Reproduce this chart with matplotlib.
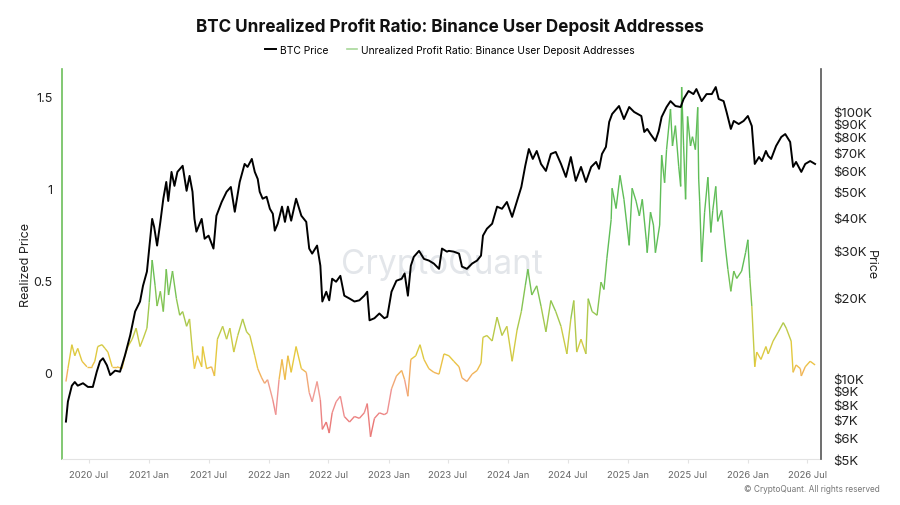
import pandas as pd
import matplotlib
matplotlib.use("Agg")
import matplotlib.pyplot as plt
import matplotlib.dates as mdates
from matplotlib.collections import LineCollection
from matplotlib.colors import LinearSegmentedColormap, Normalize

plt.rcParams['font.family'] = ['Inter', 'DejaVu Sans']

# BTC price (right axis, log)
btc_dates = [
    '2020-04-22', '2020-04-28', '2020-05-10', '2020-05-19', '2020-05-28', '2020-06-13', '2020-06-28',
    '2020-07-13', '2020-07-25', '2020-08-04', '2020-08-13', '2020-08-25', '2020-09-04', '2020-09-19',
    '2020-10-04', '2020-10-19', '2020-11-04', '2020-11-19', '2020-12-04', '2020-12-13', '2020-12-25',
    '2021-01-01', '2021-01-10', '2021-01-16', '2021-01-25', '2021-02-04', '2021-02-13', '2021-02-22',
    '2021-02-28', '2021-03-10', '2021-03-19', '2021-03-28', '2021-04-13', '2021-04-25', '2021-05-04',
    '2021-05-13', '2021-05-19', '2021-05-25', '2021-06-10', '2021-06-19', '2021-07-01', '2021-07-16',
    '2021-07-25', '2021-08-10', '2021-08-25', '2021-09-07', '2021-09-19', '2021-10-04', '2021-10-19',
    '2021-10-28', '2021-11-10', '2021-11-19', '2021-11-28', '2021-12-04', '2021-12-13', '2021-12-25',
    '2022-01-04', '2022-01-13', '2022-01-19', '2022-01-28', '2022-02-10', '2022-02-19', '2022-02-28',
    '2022-03-10', '2022-03-25', '2022-04-10', '2022-04-25', '2022-05-04', '2022-05-13', '2022-05-28',
    '2022-06-07', '2022-06-13', '2022-06-25', '2022-07-04', '2022-07-13', '2022-07-25', '2022-08-07',
    '2022-08-19', '2022-09-04', '2022-09-19', '2022-10-04', '2022-10-19', '2022-10-28', '2022-11-04',
    '2022-11-19', '2022-12-04', '2022-12-19', '2022-12-28', '2023-01-10', '2023-01-25', '2023-02-10',
    '2023-02-19', '2023-03-01', '2023-03-10', '2023-03-19', '2023-04-04', '2023-04-19', '2023-05-04',
    '2023-05-19', '2023-06-04', '2023-06-13', '2023-06-28', '2023-07-04', '2023-07-19', '2023-08-04',
    '2023-08-13', '2023-08-28', '2023-09-13', '2023-09-28', '2023-10-10', '2023-10-16', '2023-10-28',
    '2023-11-13', '2023-11-28', '2023-12-13', '2023-12-28', '2024-01-13', '2024-01-28', '2024-02-10',
    '2024-02-22', '2024-03-04', '2024-03-16', '2024-03-28', '2024-04-10', '2024-04-25', '2024-05-10',
    '2024-05-25', '2024-06-10', '2024-06-25', '2024-07-10', '2024-07-25', '2024-08-10', '2024-08-25',
    '2024-09-10', '2024-09-25', '2024-10-04', '2024-10-13', '2024-10-25', '2024-11-04', '2024-11-13',
    '2024-12-04', '2024-12-19', '2025-01-04', '2025-01-19', '2025-02-10', '2025-02-19', '2025-02-28',
    '2025-03-10', '2025-03-25', '2025-04-04', '2025-04-13', '2025-04-28', '2025-05-10', '2025-05-25',
    '2025-06-10', '2025-06-19', '2025-07-04', '2025-07-19', '2025-07-28', '2025-08-13', '2025-08-28',
    '2025-09-13', '2025-09-25', '2025-10-04', '2025-10-19', '2025-10-28', '2025-11-10', '2025-11-19',
    '2025-12-04', '2025-12-19', '2026-01-01', '2026-01-13', '2026-01-22', '2026-02-04', '2026-02-13',
    '2026-02-25', '2026-03-04', '2026-03-13', '2026-03-28', '2026-04-13', '2026-04-25', '2026-05-10',
    '2026-05-19', '2026-05-28', '2026-06-13', '2026-06-25', '2026-07-10', '2026-07-25',
]
btc_price = [
    6900, 8200, 9400, 9700, 9400, 9600, 9300,
    9300, 10600, 11600, 11900, 11200, 10300, 10700,
    10600, 12200, 14500, 17800, 19400, 22200, 25100,
    30600, 39500, 36900, 31400, 38500, 47000, 54300,
    46100, 59200, 52500, 59200, 62400, 50300, 57200,
    49900, 39500, 35400, 39500, 33300, 34200, 30600,
    40600, 45700, 49900, 52000, 42000, 54300, 63400,
    61800, 66200, 59200, 55700, 49900, 47000, 47800,
    43100, 41300, 35700, 37900, 43900, 38500, 43900,
    38900, 47000, 40600, 38500, 30600, 29300, 31400,
    26400, 19400, 21100, 19600, 23600, 23000, 24200,
    20400, 19900, 19400, 19600, 20400, 21100, 16500,
    16800, 17500, 16800, 17000, 21100, 23200, 23600,
    24700, 20400, 26400, 28500, 30000, 28000, 27600,
    26900, 25700, 30600, 29800, 30000, 29800, 29300,
    26200, 25700, 26900, 27600, 28800, 34200, 36300,
    37900, 43900, 43100, 45700, 40200, 46100, 52000,
    62400, 72100, 66200, 70900, 63400, 59700, 69100,
    70300, 63400, 56700, 67300, 54800, 61800, 54300,
    61800, 64500, 60800, 69100, 73400, 91000, 97500,
    104400, 93300, 103500, 99200, 95800, 83500, 85700,
    82000, 77300, 84100, 95000, 103500, 108900, 104400,
    103500, 110900, 118800, 115700, 120800, 108900, 115700,
    115700, 122900, 110900, 108900, 99200, 85700, 91800,
    89400, 91800, 95800, 87900, 63400, 67300, 65000,
    70900, 67900, 66200, 74000, 80000, 82000, 76600,
    61800, 64500, 59200, 63400, 65000, 63400,
]

# Unrealized profit ratio (left axis)
ratio_dates = [
    '2020-04-22', '2020-04-28', '2020-05-10', '2020-05-19', '2020-05-28', '2020-06-10', '2020-06-25',
    '2020-07-10', '2020-07-19', '2020-07-28', '2020-08-10', '2020-08-19', '2020-08-28', '2020-09-10',
    '2020-09-25', '2020-10-10', '2020-10-19', '2020-10-28', '2020-11-10', '2020-11-22', '2020-12-04',
    '2020-12-13', '2020-12-25', '2021-01-01', '2021-01-10', '2021-01-19', '2021-01-25', '2021-02-04',
    '2021-02-13', '2021-02-22', '2021-03-01', '2021-03-13', '2021-03-25', '2021-04-04', '2021-04-13',
    '2021-04-25', '2021-05-04', '2021-05-13', '2021-05-19', '2021-05-28', '2021-06-10', '2021-06-13',
    '2021-06-25', '2021-07-10', '2021-07-19', '2021-07-28', '2021-08-13', '2021-08-25', '2021-09-04',
    '2021-09-16', '2021-09-28', '2021-10-13', '2021-10-25', '2021-11-04', '2021-11-19', '2021-11-28',
    '2021-12-10', '2021-12-19', '2021-12-28', '2022-01-13', '2022-01-22', '2022-02-01', '2022-02-10',
    '2022-02-19', '2022-02-28', '2022-03-10', '2022-03-25', '2022-04-10', '2022-04-25', '2022-05-04',
    '2022-05-13', '2022-05-28', '2022-06-07', '2022-06-13', '2022-06-25', '2022-07-04', '2022-07-13',
    '2022-07-25', '2022-08-07', '2022-08-19', '2022-09-04', '2022-09-19', '2022-10-04', '2022-10-19',
    '2022-10-28', '2022-11-07', '2022-11-19', '2022-12-04', '2022-12-19', '2022-12-28', '2023-01-10',
    '2023-01-25', '2023-02-10', '2023-02-19', '2023-03-01', '2023-03-10', '2023-03-25', '2023-04-07',
    '2023-04-19', '2023-05-04', '2023-05-19', '2023-06-04', '2023-06-19', '2023-07-04', '2023-07-19',
    '2023-08-04', '2023-08-13', '2023-08-28', '2023-09-13', '2023-09-28', '2023-10-10', '2023-10-16',
    '2023-10-28', '2023-11-13', '2023-11-28', '2023-12-13', '2023-12-28', '2024-01-13', '2024-01-28',
    '2024-02-10', '2024-02-22', '2024-03-01', '2024-03-13', '2024-03-28', '2024-04-10', '2024-04-25',
    '2024-05-10', '2024-05-25', '2024-06-10', '2024-06-28', '2024-07-10', '2024-07-19', '2024-07-28',
    '2024-08-10', '2024-08-25', '2024-09-01', '2024-09-13', '2024-09-28', '2024-10-10', '2024-10-19',
    '2024-10-28', '2024-11-10', '2024-11-13', '2024-11-25', '2024-12-07', '2024-12-19', '2025-01-04',
    '2025-01-13', '2025-01-25', '2025-02-04', '2025-02-13', '2025-02-25', '2025-02-28', '2025-03-10',
    '2025-03-19', '2025-03-25', '2025-04-07', '2025-04-13', '2025-04-22', '2025-04-28', '2025-05-10',
    '2025-05-16', '2025-05-25', '2025-06-04', '2025-06-10', '2025-06-13', '2025-06-19', '2025-06-25',
    '2025-07-01', '2025-07-10', '2025-07-16', '2025-07-25', '2025-08-01', '2025-08-04', '2025-08-07',
    '2025-08-13', '2025-08-22', '2025-09-01', '2025-09-10', '2025-09-16', '2025-09-25', '2025-10-01',
    '2025-10-13', '2025-10-25', '2025-11-01', '2025-11-10', '2025-11-19', '2025-11-28', '2025-12-13',
    '2025-12-25', '2026-01-01', '2026-01-07', '2026-01-13', '2026-01-22', '2026-01-28', '2026-02-10',
    '2026-02-25', '2026-03-04', '2026-03-19', '2026-04-04', '2026-04-19', '2026-04-28', '2026-05-13',
    '2026-05-19', '2026-05-28', '2026-06-10', '2026-06-13', '2026-06-25', '2026-07-10', '2026-07-25',
]
ratio_values = [
    -0.05, 0.02, 0.15, 0.09, 0.13, 0.06, 0.03,
    0.03, 0.06, 0.14, 0.15, 0.13, 0.11, 0.03,
    0.03, 0.02, 0.09, 0.14, 0.18, 0.24, 0.14,
    0.18, 0.24, 0.38, 0.61, 0.47, 0.36, 0.44,
    0.33, 0.56, 0.42, 0.55, 0.40, 0.31, 0.33,
    0.25, 0.29, 0.11, 0.02, 0.09, 0.03, 0.14,
    0.02, 0.03, -0.02, 0.18, 0.25, 0.18, 0.24,
    0.11, 0.20, 0.29, 0.22, 0.20, 0.09, 0.02,
    -0.03, -0.06, -0.04, -0.15, -0.23, -0.04, 0.07,
    -0.04, 0.09, 0.00, 0.14, 0.02, 0.00, -0.11,
    -0.16, -0.05, -0.15, -0.31, -0.27, -0.33, -0.22,
    -0.16, -0.13, -0.24, -0.27, -0.24, -0.25, -0.22,
    -0.17, -0.35, -0.25, -0.22, -0.23, -0.22, -0.09,
    -0.02, 0.01, -0.04, -0.13, 0.07, 0.09, 0.15,
    0.07, 0.02, 0.00, -0.01, 0.10, 0.09, 0.06,
    0.03, -0.03, -0.05, -0.01, 0.01, 0.05, 0.19,
    0.20, 0.17, 0.30, 0.20, 0.25, 0.06, 0.23,
    0.33, 0.47, 0.56, 0.42, 0.47, 0.36, 0.22,
    0.39, 0.33, 0.25, 0.10, 0.29, 0.39, 0.11,
    0.18, 0.10, 0.40, 0.33, 0.31, 0.49, 0.45,
    0.62, 0.83, 1.00, 0.89, 1.07, 0.94, 0.69,
    1.00, 0.93, 0.85, 0.94, 0.72, 0.65, 0.87,
    0.80, 0.65, 0.80, 1.18, 1.03, 1.21, 1.43,
    1.23, 1.34, 1.12, 1.01, 1.55, 1.23, 0.94,
    1.39, 1.23, 1.28, 1.21, 1.44, 1.05, 0.93,
    0.60, 0.87, 1.06, 0.76, 0.88, 1.01, 0.82,
    0.88, 0.67, 0.56, 0.44, 0.55, 0.51, 0.55,
    0.65, 0.72, 0.51, 0.36, 0.03, 0.11, 0.07,
    0.14, 0.10, 0.17, 0.22, 0.27, 0.24, 0.17,
    0.00, 0.04, 0.02, -0.02, 0.03, 0.06, 0.04,
]

ratio_ticks = [0, 0.5, 1, 1.5]
ratio_labels = ['0', '0.5', '1', '1.5']
price_ticks = [5000, 6000, 7000, 8000, 9000, 10000, 20000, 30000, 40000,
               50000, 60000, 70000, 80000, 90000, 100000]
price_labels = ['$5K', '$6K', '$7K', '$8K', '$9K', '$10K', '$20K', '$30K', '$40K',
                '$50K', '$60K', '$70K', '$80K', '$90K', '$100K']
x_tick_dates = ['2020-07-01', '2021-01-01', '2021-07-01', '2022-01-01', '2022-07-01',
                '2023-01-01', '2023-07-01', '2024-01-01', '2024-07-01', '2025-01-01',
                '2025-07-01', '2026-01-01', '2026-07-01']
x_tick_labels = ['2020 Jul', '2021 Jan', '2021 Jul', '2022 Jan', '2022 Jul', '2023 Jan',
                 '2023 Jul', '2024 Jan', '2024 Jul', '2025 Jan', '2025 Jul', '2026 Jan',
                 '2026 Jul']

green = '#6cbf5a'
tick_col = '#666666'

fig = plt.figure(figsize=(9, 5.06), dpi=100)
ax = fig.add_axes([0.0689, 0.0909, 0.8433, 0.7708])
ax2 = ax.twinx()

# profit ratio, coloured by its value
rx = mdates.date2num(pd.to_datetime(ratio_dates))
ry = ratio_values
segs = [[(rx[i], ry[i]), (rx[i + 1], ry[i + 1])] for i in range(len(rx) - 1)]
mids = [(ry[i] + ry[i + 1]) / 2 for i in range(len(ry) - 1)]
cmap = LinearSegmentedColormap.from_list('upr', [
    (0.00, '#e86e6c'),
    (0.25, '#f09a9a'),
    (0.36, '#f2b35a'),
    (0.44, '#e8c93e'),
    (0.58, '#c4cb48'),
    (0.75, '#8dc652'),
    (1.00, '#5fbd57'),
])
norm = Normalize(vmin=-0.35, vmax=0.6)
lc = LineCollection(segs, colors=cmap(norm(mids)), linewidths=1.0)
ax.add_collection(lc)

# btc price
bx = pd.to_datetime(btc_dates)
ax2.plot(bx, btc_price, color='black', lw=1.4)
ax2.set_yscale('log')

ax.set_xlim(pd.Timestamp('2020-04-10'), pd.Timestamp('2026-08-12'))
ax.set_ylim(-0.471, 1.648)
ax2.set_ylim(5000, 143600)

ax.set_yticks(ratio_ticks)
ax.set_yticklabels(ratio_labels)
ax2.set_yticks(price_ticks)
ax2.set_yticklabels(price_labels)
ax2.yaxis.set_minor_locator(matplotlib.ticker.NullLocator())
ax.set_xticks(pd.to_datetime(x_tick_dates))
ax.set_xticklabels(x_tick_labels)

ax.tick_params(axis='y', length=0, pad=7, labelsize=9, labelcolor='#222222')
ax2.tick_params(axis='y', length=0, pad=9, labelsize=9.5, labelcolor='#222222')
ax.tick_params(axis='x', length=3, width=0.8, color='#e3e3e3', pad=5,
               labelsize=6.8, labelcolor=tick_col)

for s in ['top', 'right']:
    ax.spines[s].set_visible(False)
ax.spines['left'].set_color(green)
ax.spines['left'].set_linewidth(1.2)
ax.spines['bottom'].set_color('#e3e3e3')
for s in ['top', 'left', 'bottom']:
    ax2.spines[s].set_visible(False)
ax2.spines['right'].set_color('#555555')
ax2.spines['right'].set_linewidth(1.2)

ax.set_ylabel('Realized Price', fontsize=9, color='#222222', labelpad=1)
ax2.set_ylabel('Price', fontsize=9, color='#222222', rotation=270, labelpad=3)

# watermark
ax.text(0.5, 0.5, 'CryptoQuant', transform=ax.transAxes, ha='center', va='center',
        fontsize=24, color='#e3e6ea', zorder=0)

fig.text(0.5, 0.947, 'BTC Unrealized Profit Ratio: Binance User Deposit Addresses',
         ha='center', va='center', fontsize=12.3, fontweight='bold', color='#111111')

# legend
handles = [plt.Line2D([], [], color='black', lw=1.4),
           plt.Line2D([], [], color='#a8d89a', lw=1.2)]
fig.legend(handles, ['BTC Price', 'Unrealized Profit Ratio: Binance User Deposit Addresses'],
           loc='center', bbox_to_anchor=(0.5, 0.9), ncol=2, frameon=False,
           fontsize=7.4, handlelength=1.0, handletextpad=0.4, columnspacing=1.8)

fig.text(0.977, 0.032, '\u00a9 CryptoQuant. All rights reserved', ha='right', va='center',
         fontsize=6, color='#777777')

fig.savefig('out.png', dpi=100)
